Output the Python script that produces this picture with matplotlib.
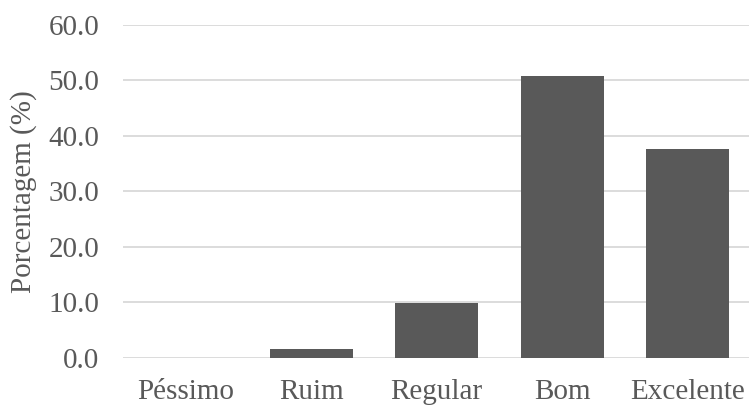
import matplotlib
matplotlib.use("Agg")
import matplotlib.pyplot as plt

categories = ["Péssimo", "Ruim", "Regular", "Bom", "Excelente"]
values = [0.0, 1.6, 9.8, 50.8, 37.6]
yticks = [0, 10, 20, 30, 40, 50, 60]

plt.rcParams["font.family"] = ["Liberation Serif", "DejaVu Serif"]
text_color = "#595959"

fig = plt.figure(figsize=(7.49, 4.05), dpi=100)
ax = fig.add_axes([0.164, 0.117, 0.838, 0.822])

x = range(len(categories))
ax.bar(x, values, width=0.66, color="#595959", zorder=3)

ax.set_ylim(0, 60)
ax.set_xlim(-0.5, len(categories) - 0.5)
ax.set_yticks(yticks)
ax.set_yticklabels([f"{v:.1f}" for v in yticks])
ax.set_xticks(list(x))
ax.set_xticklabels(categories)

ax.grid(axis="y", color="#d9d9d9", linewidth=1.3, zorder=0)
for s in ax.spines.values():
    s.set_visible(False)
ax.tick_params(axis="both", length=0, labelsize=21, colors=text_color)
ax.tick_params(axis="y", pad=17)
ax.tick_params(axis="x", pad=15.5)

ax.set_ylabel("Porcentagem (%)", fontsize=21, color=text_color, labelpad=8)

fig.savefig("out.png", dpi=100)
